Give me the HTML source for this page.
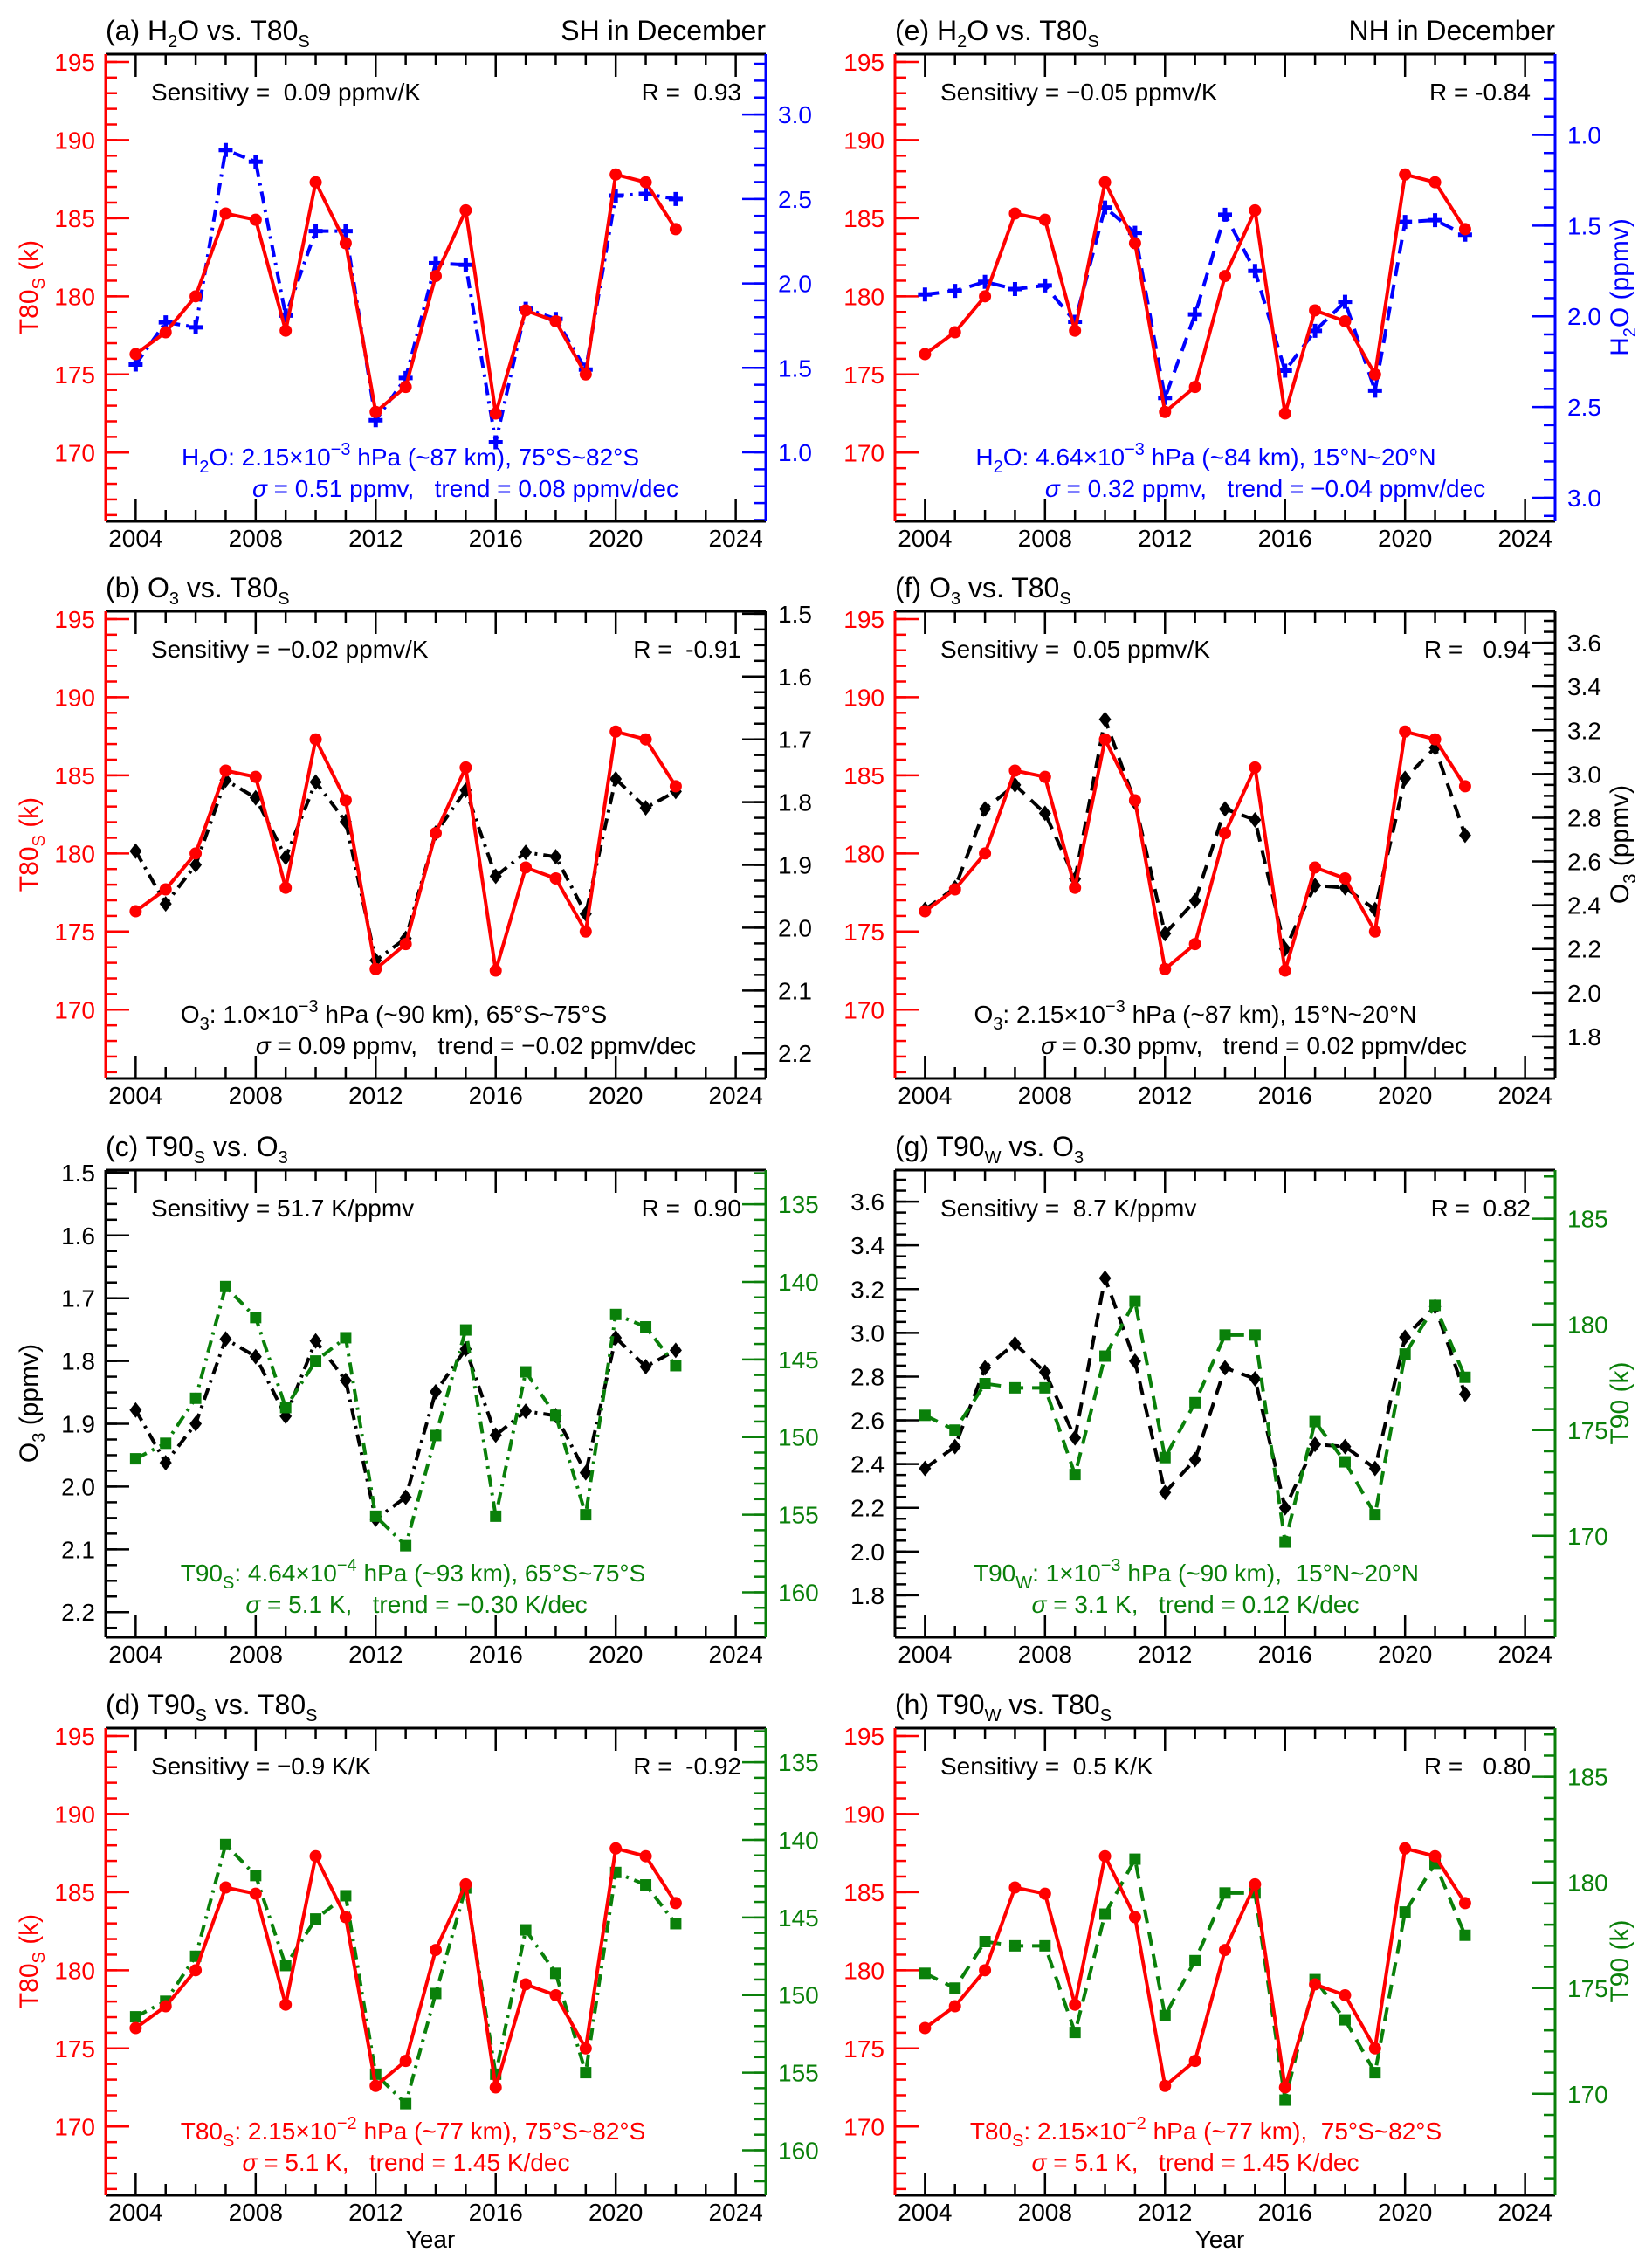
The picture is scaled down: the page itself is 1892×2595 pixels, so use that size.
<!DOCTYPE html>
<html><head><meta charset="utf-8">
<style>
html,body{margin:0;padding:0;background:#fff;}
svg{display:block;font-family:"Liberation Sans",sans-serif;}
text{white-space:pre;}
</style></head>
<body>
<svg id="fig" xmlns="http://www.w3.org/2000/svg" width="1892" height="2595" viewBox="0 0 1892 2595"></svg>
<script>
// ---- data ----
const years = [2004,2005,2006,2007,2008,2009,2010,2011,2012,2013,2014,2015,2016,2017,2018,2019,2020,2021,2022];
const t80s = [176.3,177.7,180.0,185.3,184.9,177.8,187.3,183.4,172.6,174.2,181.3,185.5,172.5,179.1,178.4,175.0,187.8,187.3,184.3];
const t80n = [176.3,177.7,180.0,185.3,184.9,177.8,187.3,183.4,172.6,174.2,181.3,185.5,172.5,179.1,178.4,175.0,187.8,187.3,184.3];
const h2oSH = [1.52,1.77,1.74,2.79,2.72,1.81,2.31,2.31,1.19,1.44,2.12,2.11,1.06,1.85,1.79,1.49,2.52,2.53,2.50];
const h2oNH = [1.88,1.86,1.81,1.85,1.83,2.03,1.40,1.54,2.45,1.99,1.44,1.75,2.30,2.08,1.92,2.41,1.48,1.47,1.55];
const o3SH = [1.878,1.962,1.900,1.765,1.793,1.888,1.768,1.831,2.052,2.017,1.849,1.781,1.918,1.880,1.887,1.978,1.763,1.809,1.783];
const o3NH = [2.38,2.48,2.84,2.95,2.82,2.52,3.25,2.87,2.27,2.42,2.84,2.79,2.20,2.49,2.48,2.38,2.98,3.12,2.72];
const t90s = [151.4,150.4,147.5,140.3,142.3,148.1,145.1,143.6,155.1,157.0,149.9,143.1,155.1,145.8,148.6,155.0,142.1,142.9,145.4];
const t90w = [175.7,175.0,177.2,177.0,177.0,172.9,178.5,181.1,173.7,176.3,179.5,179.5,169.7,175.4,173.5,171.0,178.6,180.9,177.5];
const xTickLabels = ['2004','2008','2012','2016','2020','2024'];

const NS='http://www.w3.org/2000/svg';
const svg=document.getElementById('fig');
const RED='#ff0000',BLUE='#0000ff',GREEN='#0a800a',BLACK='#000000';
function mk(tag,attrs,parent){const e=document.createElementNS(NS,tag);for(const k in attrs)e.setAttribute(k,attrs[k]);(parent||svg).appendChild(e);return e;}
const sub=s=>`<tspan font-size="20" dy="8">${s}</tspan><tspan dy="-8">\u200b</tspan>`;
const sup=s=>`<tspan font-size="20" dy="-12">${s}</tspan><tspan dy="12">\u200b</tspan>`;

const AX={
 t80:{min:165.6,max:195.5,inv:false,majors:[170,175,180,185,190,195],minor:1,mstart:166,mend:195,dec:0,color:RED},
 h2oA:{min:0.592,max:3.357,inv:false,majors:[1.0,1.5,2.0,2.5,3.0],minor:0.1,mstart:0.6,mend:3.3,dec:1,color:BLUE},
 h2oE:{min:0.555,max:3.13,inv:true,majors:[1.0,1.5,2.0,2.5,3.0],minor:0.1,mstart:0.6,mend:3.1,dec:1,color:BLUE},
 o3S:{min:1.496,max:2.24,inv:true,majors:[1.5,1.6,1.7,1.8,1.9,2.0,2.1,2.2],minor:0.025,mstart:1.5,mend:2.225,dec:1,color:BLACK},
 o3N:{min:1.608,max:3.744,inv:false,majors:[1.8,2.0,2.2,2.4,2.6,2.8,3.0,3.2,3.4,3.6],minor:0.05,mstart:1.65,mend:3.7,dec:1,color:BLACK},
 t90S:{min:132.8,max:162.9,inv:true,majors:[135,140,145,150,155,160],minor:1,mstart:133,mend:162,dec:0,color:GREEN},
 t90W:{min:165.2,max:187.3,inv:false,majors:[170,175,180,185],minor:1,mstart:166,mend:187,dec:0,color:GREEN}
};
const DASHDOT='14 7 3 7', DASHED='16 10';
const W=756,H=535;
const panels=[
 {id:'a',x:121,y:62,title:`(a) H${sub('2')}O vs. T80${sub('S')}`,region:'SH in December',L:AX.t80,R:AX.h2oA,
  sens:'Sensitivy =  0.09 ppmv/K',r:'R =  0.93',
  series:[{d:h2oSH,ax:'R',c:BLUE,dash:DASHDOT,m:'plus',n:'h2o-sh'},{d:t80s,ax:'L',c:RED,dash:null,m:'circle',n:'t80s'}],
  ann:{c:BLUE,l1:`H${sub('2')}O: 2.15×10${sup('−3')} hPa (~87 km), 75°S~82°S`,l2:`<tspan font-style="italic">σ</tspan> = 0.51 ppmv,   trend = 0.08 ppmv/dec`,c1:349,c2:412},
  ltitle:{t:`T80${sub('S')} (k)`,c:RED}},
 {id:'b',x:121,y:700,title:`(b) O${sub('3')} vs. T80${sub('S')}`,L:AX.t80,R:AX.o3S,
  sens:'Sensitivy = −0.02 ppmv/K',r:'R =  -0.91',
  series:[{d:o3SH,ax:'R',c:BLACK,dash:DASHDOT,m:'diamond',n:'o3-sh'},{d:t80s,ax:'L',c:RED,dash:null,m:'circle',n:'t80s'}],
  ann:{c:BLACK,l1:`O${sub('3')}: 1.0×10${sup('−3')} hPa (~90 km), 65°S~75°S`,l2:`<tspan font-style="italic">σ</tspan> = 0.09 ppmv,   trend = −0.02 ppmv/dec`,c1:330,c2:424},
  ltitle:{t:`T80${sub('S')} (k)`,c:RED}},
 {id:'c',x:121,y:1340,title:`(c) T90${sub('S')} vs. O${sub('3')}`,L:AX.o3S,R:AX.t90S,
  sens:'Sensitivy = 51.7 K/ppmv',r:'R =  0.90',
  series:[{d:o3SH,ax:'L',c:BLACK,dash:DASHDOT,m:'diamond',n:'o3-sh'},{d:t90s,ax:'R',c:GREEN,dash:DASHDOT,m:'square',n:'t90s'}],
  ann:{c:GREEN,l1:`T90${sub('S')}: 4.64×10${sup('−4')} hPa (~93 km), 65°S~75°S`,l2:`<tspan font-style="italic">σ</tspan> = 5.1 K,   trend = −0.30 K/dec`,c1:352,c2:356},
  ltitle:{t:`O${sub('3')} (ppmv)`,c:BLACK}},
 {id:'d',x:121,y:1979,title:`(d) T90${sub('S')} vs. T80${sub('S')}`,L:AX.t80,R:AX.t90S,
  sens:'Sensitivy = −0.9 K/K',r:'R =  -0.92',
  series:[{d:t90s,ax:'R',c:GREEN,dash:DASHDOT,m:'square',n:'t90s'},{d:t80s,ax:'L',c:RED,dash:null,m:'circle',n:'t80s'}],
  ann:{c:RED,l1:`T80${sub('S')}: 2.15×10${sup('−2')} hPa (~77 km), 75°S~82°S`,l2:`<tspan font-style="italic">σ</tspan> = 5.1 K,   trend = 1.45 K/dec`,c1:352,c2:344},
  ltitle:{t:`T80${sub('S')} (k)`,c:RED},year:true},
 {id:'e',x:1025,y:62,title:`(e) H${sub('2')}O vs. T80${sub('S')}`,region:'NH in December',L:AX.t80,R:AX.h2oE,
  sens:'Sensitivy = −0.05 ppmv/K',r:'R = -0.84',
  series:[{d:h2oNH,ax:'R',c:BLUE,dash:DASHED,m:'plus',n:'h2o-nh'},{d:t80n,ax:'L',c:RED,dash:null,m:'circle',n:'t80n'}],
  ann:{c:BLUE,l1:`H${sub('2')}O: 4.64×10${sup('−3')} hPa (~84 km), 15°N~20°N`,l2:`<tspan font-style="italic">σ</tspan> = 0.32 ppmv,   trend = −0.04 ppmv/dec`,c1:356,c2:424},
  rtitle:{t:`H${sub('2')}O (ppmv)`,c:BLUE}},
 {id:'f',x:1025,y:700,title:`(f) O${sub('3')} vs. T80${sub('S')}`,L:AX.t80,R:AX.o3N,
  sens:'Sensitivy =  0.05 ppmv/K',r:'R =   0.94',
  series:[{d:o3NH,ax:'R',c:BLACK,dash:DASHED,m:'diamond',n:'o3-nh'},{d:t80n,ax:'L',c:RED,dash:null,m:'circle',n:'t80n'}],
  ann:{c:BLACK,l1:`O${sub('3')}: 2.15×10${sup('−3')} hPa (~87 km), 15°N~20°N`,l2:`<tspan font-style="italic">σ</tspan> = 0.30 ppmv,   trend = 0.02 ppmv/dec`,c1:344,c2:411},
  rtitle:{t:`O${sub('3')} (ppmv)`,c:BLACK}},
 {id:'g',x:1025,y:1340,title:`(g) T90${sub('W')} vs. O${sub('3')}`,L:AX.o3N,R:AX.t90W,
  sens:'Sensitivy =  8.7 K/ppmv',r:'R =  0.82',
  series:[{d:o3NH,ax:'L',c:BLACK,dash:DASHED,m:'diamond',n:'o3-nh'},{d:t90w,ax:'R',c:GREEN,dash:DASHED,m:'square',n:'t90w'}],
  ann:{c:GREEN,l1:`T90${sub('W')}: 1×10${sup('−3')} hPa (~90 km),  15°N~20°N`,l2:`<tspan font-style="italic">σ</tspan> = 3.1 K,   trend = 0.12 K/dec`,c1:345,c2:344},
  rtitle:{t:'T90 (k)',c:GREEN}},
 {id:'h',x:1025,y:1979,title:`(h) T90${sub('W')} vs. T80${sub('S')}`,L:AX.t80,R:AX.t90W,
  sens:'Sensitivy =  0.5 K/K',r:'R =   0.80',
  series:[{d:t90w,ax:'R',c:GREEN,dash:DASHED,m:'square',n:'t90w'},{d:t80n,ax:'L',c:RED,dash:null,m:'circle',n:'t80n'}],
  ann:{c:RED,l1:`T80${sub('S')}: 2.15×10${sup('−2')} hPa (~77 km),  75°S~82°S`,l2:`<tspan font-style="italic">σ</tspan> = 5.1 K,   trend = 1.45 K/dec`,c1:356,c2:344},
  rtitle:{t:'T90 (k)',c:GREEN},year:true}
];

function drawPanel(p){
  const g=mk('g',{});
  
  
  const xs=yr=>p.x+(yr-2003)/(2025-2003)*W;
  const ys=(ax,v)=>{const f=(v-ax.min)/(ax.max-ax.min);return ax.inv? p.y+f*H : p.y+H-f*H;};
  for(let yr=2004;yr<=2024;yr++){
    const X=xs(yr),maj=(yr%4===0),len=maj?26:13;
    const t1=mk('line',{x1:X,y1:p.y+H,x2:X,y2:p.y+H-len,stroke:'#000','stroke-width':2.5},g);
    
    
    const t2=mk('line',{x1:X,y1:p.y,x2:X,y2:p.y+len,stroke:'#000','stroke-width':2.5},g);
    
    
  }
  xTickLabels.forEach(s=>{
    const t=mk('text',{x:xs(+s),y:p.y+H+29,'text-anchor':'middle','font-size':28,fill:'#000'},g);
    t.textContent=s;
    
    
  });
  [['L',p.L],['R',p.R]].forEach(([side,ax])=>{
    const sx= side==='L'? p.x : p.x+W, dir= side==='L'?1:-1;
    const n=Math.round((ax.mend-ax.mstart)/ax.minor);
    for(let i=0;i<=n;i++){
      const v=ax.mstart+i*ax.minor; const Y=ys(ax,v);
      if(Y<p.y-0.5||Y>p.y+H+0.5)continue;
      const t=mk('line',{x1:sx,y1:Y,x2:sx+dir*13,y2:Y,stroke:ax.color,'stroke-width':2.5},g);
      
      
    }
    ax.majors.forEach(v=>{
      const Y=ys(ax,v);
      const t=mk('line',{x1:sx,y1:Y,x2:sx+dir*27,y2:Y,stroke:ax.color,'stroke-width':2.5},g);
      
      
      const lb=mk('text',{x: side==='L'? sx-12 : sx+14, y:Y+10,'text-anchor': side==='L'?'end':'start','font-size':28,fill:ax.color},g);
      lb.textContent=v.toFixed(ax.dec);
      
      
    });
  });
  const top=mk('line',{x1:p.x,y1:p.y,x2:p.x+W,y2:p.y,stroke:'#000','stroke-width':3},g);
  
  
  const bot=mk('line',{x1:p.x,y1:p.y+H,x2:p.x+W,y2:p.y+H,stroke:'#000','stroke-width':3},g);
  
  
  const ls=mk('line',{x1:p.x,y1:p.y,x2:p.x,y2:p.y+H,stroke:p.L.color,'stroke-width':3},g);
  
  
  const rs=mk('line',{x1:p.x+W,y1:p.y,x2:p.x+W,y2:p.y+H,stroke:p.R.color,'stroke-width':3},g);
  
  
  p.series.forEach(s=>{
    const ax= s.ax==='L'?p.L:p.R;
    const pts=s.d.map((v,i)=>[xs(years[i]),ys(ax,v)]);
    const pl=mk('polyline',{points:pts.map(q=>q.join(',')).join(' '),fill:'none',stroke:s.c,'stroke-width':4,'stroke-linejoin':'round'},g);
    if(s.dash)pl.setAttribute('stroke-dasharray',s.dash);
    
    
    pts.forEach(([X,Y])=>{
      let m;
      if(s.m==='circle') m=mk('circle',{cx:X,cy:Y,r:7,fill:s.c},g);
      else if(s.m==='square') m=mk('rect',{x:X-6.5,y:Y-6.5,width:13,height:13,fill:s.c},g);
      else if(s.m==='diamond') m=mk('polygon',{points:`${X},${Y-9} ${X+7},${Y} ${X},${Y+9} ${X-7},${Y}`,fill:s.c},g);
      else m=mk('path',{d:`M${X-8},${Y}H${X+8}M${X},${Y-8}V${Y+8}`,stroke:s.c,'stroke-width':5},g);
      
      
    });
  });
  const tt=mk('text',{x:p.x,y:p.y-16,'font-size':32,fill:'#000'},g);
  tt.innerHTML=p.title;
  
  
  if(p.region){
    const rg=mk('text',{x:p.x+W,y:p.y-16,'text-anchor':'end','font-size':32,fill:'#000'},g);
    rg.textContent=p.region;
    
    
  }
  const se=mk('text',{x:p.x+52,y:p.y+53,'font-size':28,fill:'#000'},g);
  se.textContent=p.sens;
  
  
  const rr=mk('text',{x:p.x+W-28,y:p.y+53,'text-anchor':'end','font-size':28,fill:'#000'},g);
  rr.textContent=p.r;
  
  
  const a1=mk('text',{x:p.x+p.ann.c1,y:p.y+471,'text-anchor':'middle','font-size':28,fill:p.ann.c},g);
  a1.innerHTML=p.ann.l1;
  
  
  const a2=mk('text',{x:p.x+p.ann.c2,y:p.y+507,'text-anchor':'middle','font-size':28,fill:p.ann.c},g);
  a2.innerHTML=p.ann.l2;
  
  
  if(p.ltitle){
    const cx=33,cy=p.y+267;
    const lt=mk('text',{x:cx,y:cy+10,'text-anchor':'middle','font-size':30,fill:p.ltitle.c,transform:`rotate(-90 ${cx} ${cy})`},g);
    lt.innerHTML=p.ltitle.t;
    
    
  }
  if(p.rtitle){
    const cx=p.x+W+74,cy=p.y+267;
    const rt=mk('text',{x:cx,y:cy+10,'text-anchor':'middle','font-size':30,fill:p.rtitle.c,transform:`rotate(-90 ${cx} ${cy})`},g);
    rt.innerHTML=p.rtitle.t;
    
    
  }
  if(p.year){
    const yl=mk('text',{x:p.x+372,y:p.y+H+60,'text-anchor':'middle','font-size':28,fill:'#000'},g);
    yl.textContent='Year';
    
    
  }
}
panels.forEach(drawPanel);
</script>
</body></html>
